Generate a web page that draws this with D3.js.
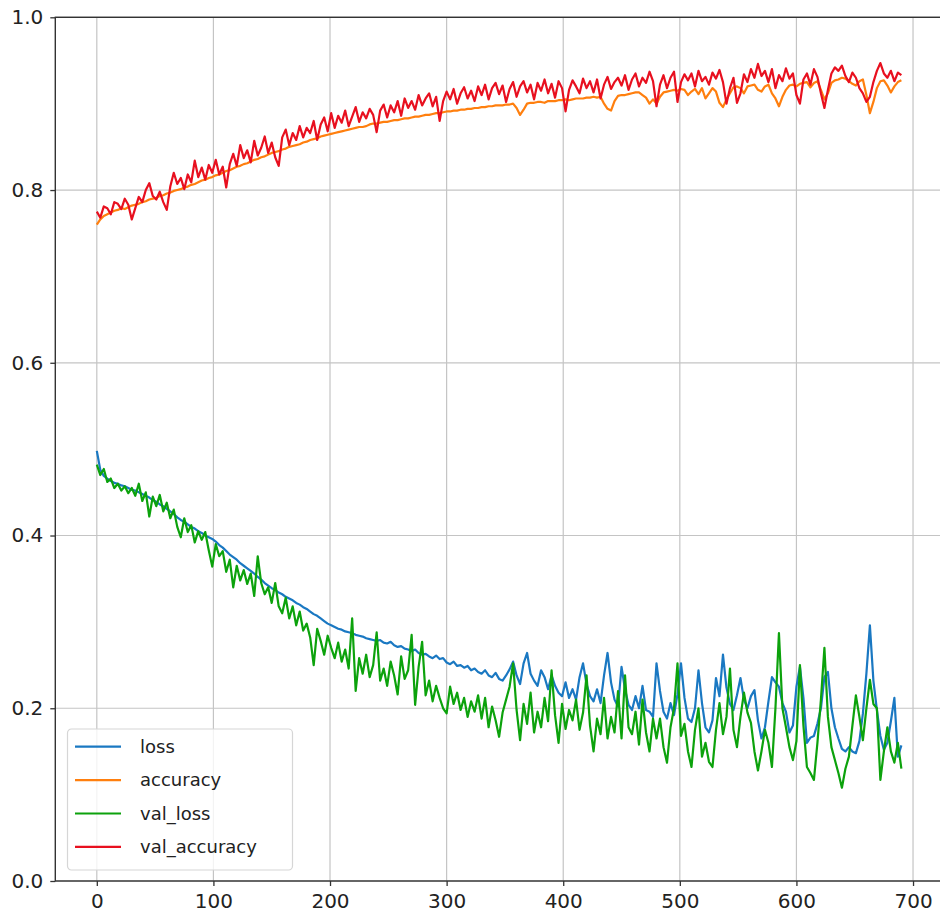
<!DOCTYPE html>
<html>
<head>
<meta charset="utf-8">
<script src="https://cdn.jsdelivr.net/npm/d3@7"></script>
<style>
    html, body { margin: 0; padding: 0; background: #fff; }
    svg { display: block; font-family: "DejaVu Sans", sans-serif; }
</style>
</head>
<body>
<svg id="chart" width="940" height="918"></svg>
<script>
// history, one value every 3 epochs (10 values = 30 epochs per row)
const epochStep = 3
const epochs = d3.range(0, 691, epochStep)

const loss = [
    0.498, 0.476, 0.469, 0.466, 0.463, 0.461, 0.460, 0.458, 0.457, 0.455,
    0.453, 0.452, 0.450, 0.448, 0.446, 0.444, 0.441, 0.439, 0.436, 0.434,
    0.431, 0.428, 0.425, 0.421, 0.418, 0.416, 0.413, 0.410, 0.408, 0.405,
    0.403, 0.400, 0.398, 0.396, 0.393, 0.389, 0.386, 0.382, 0.378, 0.375,
    0.372, 0.368, 0.365, 0.362, 0.359, 0.356, 0.352, 0.349, 0.345, 0.342,
    0.339, 0.337, 0.334, 0.332, 0.329, 0.327, 0.325, 0.322, 0.320, 0.317,
    0.315, 0.312, 0.309, 0.307, 0.304, 0.301, 0.298, 0.296, 0.294, 0.292,
    0.291, 0.289, 0.288, 0.287, 0.285, 0.284, 0.283, 0.281, 0.280, 0.279,
    0.278, 0.279, 0.276, 0.275, 0.277, 0.273, 0.271, 0.272, 0.269, 0.268,
    0.266, 0.268, 0.264, 0.262, 0.263, 0.260, 0.258, 0.261, 0.257, 0.258,
    0.253, 0.251, 0.254, 0.249, 0.250, 0.247, 0.249, 0.244, 0.246, 0.242,
    0.240, 0.244, 0.238, 0.236, 0.241, 0.234, 0.232, 0.238, 0.245, 0.254,
    0.238, 0.228, 0.252, 0.264, 0.240, 0.232, 0.226, 0.244, 0.236, 0.222,
    0.238, 0.226, 0.218, 0.214, 0.230, 0.212, 0.222, 0.210, 0.236, 0.252,
    0.228, 0.214, 0.208, 0.222, 0.206, 0.238, 0.264, 0.230, 0.210, 0.202,
    0.248, 0.222, 0.204, 0.198, 0.214, 0.200, 0.226, 0.198, 0.196, 0.190,
    0.252, 0.220, 0.196, 0.188, 0.206, 0.192, 0.216, 0.252, 0.212, 0.188,
    0.184, 0.200, 0.244, 0.206, 0.178, 0.172, 0.186, 0.235, 0.214, 0.262,
    0.224, 0.205, 0.198, 0.215, 0.235, 0.210, 0.200, 0.214, 0.221, 0.186,
    0.165, 0.178, 0.208, 0.236, 0.230, 0.225, 0.206, 0.196, 0.172, 0.180,
    0.225, 0.248, 0.212, 0.160, 0.166, 0.168, 0.182, 0.200, 0.236, 0.242,
    0.200, 0.178, 0.165, 0.153, 0.150, 0.155, 0.150, 0.148, 0.162, 0.194,
    0.240, 0.296, 0.232, 0.198, 0.168, 0.152, 0.160, 0.185, 0.212, 0.144,
    0.157
]

const accuracy = [
    0.760, 0.766, 0.770, 0.772, 0.774, 0.776, 0.777, 0.779, 0.778, 0.780,
    0.782, 0.783, 0.784, 0.786, 0.787, 0.789, 0.790, 0.791, 0.793, 0.794,
    0.796, 0.797, 0.799, 0.800, 0.801, 0.803, 0.804, 0.806, 0.807, 0.809,
    0.811, 0.812, 0.814, 0.815, 0.817, 0.818, 0.820, 0.822, 0.823, 0.825,
    0.827, 0.828, 0.830, 0.831, 0.833, 0.835, 0.836, 0.838, 0.839, 0.841,
    0.843, 0.844, 0.845, 0.847, 0.848, 0.850, 0.851, 0.852, 0.853, 0.855,
    0.856, 0.858, 0.859, 0.860, 0.862, 0.863, 0.864, 0.865, 0.866, 0.867,
    0.868, 0.869, 0.870, 0.871, 0.872, 0.873, 0.873, 0.874, 0.876, 0.877,
    0.877, 0.878, 0.879, 0.879, 0.880, 0.881, 0.881, 0.882, 0.883, 0.883,
    0.884, 0.885, 0.885, 0.886, 0.887, 0.887, 0.888, 0.889, 0.889, 0.890,
    0.891, 0.891, 0.892, 0.892, 0.893, 0.893, 0.894, 0.894, 0.895, 0.895,
    0.896, 0.896, 0.897, 0.897, 0.898, 0.898, 0.898, 0.899, 0.899, 0.900,
    0.895, 0.887, 0.893, 0.900, 0.901, 0.901, 0.902, 0.902, 0.901, 0.903,
    0.903, 0.903, 0.904, 0.904, 0.905, 0.904, 0.905, 0.906, 0.906, 0.906,
    0.907, 0.907, 0.908, 0.907, 0.908, 0.900, 0.894, 0.892, 0.903, 0.909,
    0.910, 0.910, 0.911, 0.912, 0.913, 0.913, 0.910, 0.907, 0.900, 0.905,
    0.900, 0.908, 0.913, 0.914, 0.915, 0.916, 0.915, 0.917, 0.916, 0.910,
    0.914, 0.917, 0.911, 0.918, 0.906, 0.912, 0.918, 0.914, 0.901, 0.896,
    0.905, 0.912, 0.919, 0.920, 0.918, 0.912, 0.920, 0.921, 0.922, 0.916,
    0.914, 0.920, 0.922, 0.912, 0.906, 0.897, 0.908, 0.916, 0.921, 0.922,
    0.920, 0.923, 0.924, 0.925, 0.919, 0.924, 0.926, 0.916, 0.905, 0.912,
    0.924, 0.927, 0.928, 0.930, 0.929, 0.926, 0.923, 0.921, 0.926, 0.928,
    0.910, 0.889, 0.902, 0.918, 0.926, 0.927, 0.921, 0.913, 0.920, 0.925,
    0.927
]

const valLoss = [
    0.482, 0.470, 0.477, 0.462, 0.466, 0.455, 0.460, 0.452, 0.457, 0.449,
    0.455, 0.446, 0.460, 0.440, 0.450, 0.422, 0.445, 0.434, 0.447, 0.428,
    0.438, 0.420, 0.430, 0.410, 0.398, 0.420, 0.404, 0.412, 0.392, 0.405,
    0.395, 0.404, 0.383, 0.364, 0.390, 0.376, 0.382, 0.358, 0.372, 0.340,
    0.365, 0.348, 0.360, 0.344, 0.356, 0.330, 0.376, 0.345, 0.332, 0.340,
    0.322, 0.345, 0.318, 0.310, 0.328, 0.304, 0.318, 0.296, 0.312, 0.290,
    0.298, 0.282, 0.250, 0.292, 0.278, 0.262, 0.284, 0.270, 0.258, 0.276,
    0.254, 0.268, 0.246, 0.304, 0.220, 0.258, 0.240, 0.262, 0.236, 0.250,
    0.288, 0.232, 0.246, 0.226, 0.254, 0.238, 0.216, 0.260, 0.234, 0.244,
    0.285, 0.204, 0.248, 0.277, 0.215, 0.232, 0.208, 0.226, 0.212, 0.200,
    0.194, 0.225, 0.205, 0.218, 0.198, 0.212, 0.190, 0.208, 0.196, 0.215,
    0.188, 0.212, 0.178, 0.202, 0.186, 0.167, 0.195, 0.210, 0.225, 0.252,
    0.198, 0.163, 0.205, 0.182, 0.218, 0.172, 0.196, 0.178, 0.212, 0.185,
    0.244, 0.192, 0.160, 0.205, 0.176, 0.198, 0.186, 0.210, 0.175, 0.195,
    0.238, 0.180, 0.150, 0.188, 0.170, 0.212, 0.165, 0.190, 0.172, 0.220,
    0.165, 0.238, 0.178, 0.170, 0.196, 0.158, 0.210, 0.172, 0.150, 0.188,
    0.165, 0.188, 0.155, 0.137, 0.178, 0.200, 0.252, 0.168, 0.182, 0.150,
    0.132, 0.175, 0.200, 0.144, 0.160, 0.138, 0.132, 0.175, 0.206, 0.170,
    0.190, 0.246, 0.175, 0.155, 0.190, 0.218, 0.195, 0.183, 0.150, 0.128,
    0.150, 0.175, 0.160, 0.132, 0.200, 0.287, 0.200, 0.178, 0.155, 0.140,
    0.162, 0.250, 0.180, 0.132, 0.125, 0.117, 0.160, 0.210, 0.270, 0.190,
    0.155, 0.140, 0.125, 0.108, 0.130, 0.144, 0.180, 0.215, 0.190, 0.163,
    0.200, 0.233, 0.205, 0.200, 0.117, 0.150, 0.178, 0.150, 0.137, 0.160,
    0.130
]

const valAccuracy = [
    0.775, 0.768, 0.781, 0.779, 0.772, 0.786, 0.784, 0.778, 0.790, 0.783,
    0.766, 0.779, 0.792, 0.786, 0.800, 0.808, 0.793, 0.789, 0.798, 0.786,
    0.777, 0.804, 0.820, 0.807, 0.814, 0.801, 0.818, 0.809, 0.834, 0.815,
    0.826, 0.812, 0.829, 0.820, 0.835, 0.818, 0.827, 0.803, 0.830, 0.842,
    0.828, 0.852, 0.837, 0.846, 0.832, 0.857, 0.840, 0.849, 0.862, 0.843,
    0.855, 0.838, 0.828, 0.861, 0.870, 0.852, 0.866, 0.858, 0.874, 0.861,
    0.872, 0.866, 0.880, 0.858, 0.876, 0.884, 0.868, 0.889, 0.872, 0.886,
    0.878, 0.892, 0.874, 0.885, 0.896, 0.879, 0.890, 0.883, 0.894, 0.887,
    0.867, 0.892, 0.899, 0.884, 0.898, 0.890, 0.903, 0.886, 0.906, 0.895,
    0.903, 0.893, 0.910, 0.898, 0.906, 0.912, 0.897, 0.908, 0.880, 0.903,
    0.914, 0.905, 0.917, 0.900, 0.912, 0.919, 0.906, 0.915, 0.903, 0.920,
    0.910, 0.922, 0.905, 0.918, 0.924, 0.911, 0.921, 0.902, 0.917, 0.925,
    0.908, 0.920, 0.926, 0.913, 0.922, 0.905, 0.924, 0.915, 0.928, 0.912,
    0.923, 0.907, 0.926, 0.918, 0.891, 0.916, 0.927, 0.920, 0.912, 0.929,
    0.918, 0.926, 0.913, 0.928, 0.906, 0.922, 0.931, 0.917, 0.925, 0.930,
    0.921, 0.933, 0.916, 0.928, 0.935, 0.920, 0.930, 0.924, 0.937, 0.926,
    0.897, 0.922, 0.933, 0.918, 0.930, 0.937, 0.902, 0.925, 0.934, 0.927,
    0.935, 0.920, 0.938, 0.926, 0.931, 0.922, 0.936, 0.929, 0.939, 0.925,
    0.900, 0.918, 0.930, 0.901, 0.912, 0.934, 0.925, 0.940, 0.930, 0.946,
    0.932, 0.938, 0.925, 0.940, 0.918, 0.933, 0.926, 0.941, 0.929, 0.935,
    0.910, 0.900, 0.928, 0.935, 0.922, 0.940, 0.931, 0.912, 0.895, 0.916,
    0.935, 0.942, 0.938, 0.944, 0.932, 0.925, 0.936, 0.930, 0.918, 0.912,
    0.902, 0.908, 0.925, 0.938, 0.947, 0.935, 0.930, 0.938, 0.926, 0.936,
    0.933
]

const seriesNames = ['loss', 'accuracy', 'val_loss', 'val_accuracy']
const seriesValues = [loss, accuracy, valLoss, valAccuracy]
const seriesColours = ['#1a78c2', '#ff7f0e', '#0ca20c', '#e8101f']

const xTicks = [0, 100, 200, 300, 400, 500, 600, 700]
const yTicks = [0, 0.2, 0.4, 0.6, 0.8, 1.0]

const fontSize = '20px'
const legendFontSize = '18px'
const plot = { left: 55.3, top: 17.3, right: 941.6, bottom: 881 }

const svg = d3.select('#chart')

const x = d3.scaleLinear().domain([-35.6, 724.5]).range([plot.left, plot.right])
const y = d3.scaleLinear().domain([0, 1]).range([plot.bottom, plot.top])

// grid
const grid = svg.append('g').attr('class', 'grid')
grid.selectAll('.gx')
    .data(xTicks)
    .join('line')
    .attr('x1', d => x(d)).attr('x2', d => x(d))
    .attr('y1', plot.top).attr('y2', plot.bottom)
    .attr('stroke', '#c4c4c4')
    .attr('stroke-width', 1.2)
grid.selectAll('.gy')
    .data(yTicks)
    .join('line')
    .attr('x1', plot.left).attr('x2', plot.right)
    .attr('y1', d => y(d)).attr('y2', d => y(d))
    .attr('stroke', '#c4c4c4')
    .attr('stroke-width', 1.2)

// series
const line = vals => d3.line()
    .x((d, i) => x(epochs[i]))
    .y(d => y(d))(vals)

svg.append('g')
    .attr('class', 'series')
    .selectAll('path')
    .data(seriesValues)
    .join('path')
    .attr('d', d => line(d))
    .attr('fill', 'none')
    .attr('stroke', (d, i) => seriesColours[i])
    .attr('stroke-width', 2.2)
    .attr('stroke-linejoin', 'round')

// axes
const adjustAxis = g => {
    g.select('.domain').remove()
    g.selectAll('.tick line').attr('stroke', '#333').attr('stroke-width', 1.3)
    g.selectAll('.tick text').attr('fill', '#222').style('font-size', fontSize)
}

svg.append('g')
    .attr('class', 'x-axis-group')
    .attr('transform', `translate(0, ${plot.bottom})`)
    .call(d3.axisBottom(x).tickValues(xTicks).tickSize(5).tickPadding(8).tickFormat(d3.format('d')))
    .call(adjustAxis)

svg.append('g')
    .attr('class', 'y-axis-group')
    .attr('transform', `translate(${plot.left}, 0)`)
    .call(d3.axisLeft(y).tickValues(yTicks).tickSize(5).tickPadding(7).tickFormat(d3.format('.1f')))
    .call(adjustAxis)

svg.selectAll('.tick text').attr('font-family', '"DejaVu Sans", sans-serif')

// frame
svg.append('rect')
    .attr('x', plot.left)
    .attr('y', plot.top)
    .attr('width', plot.right - plot.left)
    .attr('height', plot.bottom - plot.top)
    .attr('fill', 'none')
    .attr('stroke', '#333')
    .attr('stroke-width', 1.4)

// legend
const legend = svg.append('g')
    .attr('class', 'legend')
    .attr('transform', 'translate(67.5, 729)')

legend.append('rect')
    .attr('width', 225)
    .attr('height', 141)
    .attr('rx', 4)
    .attr('fill', 'white')
    .attr('fill-opacity', 0.8)
    .attr('stroke', '#d6d6d6')
    .attr('stroke-width', 1.2)

const entries = legend.selectAll('.entry')
    .data(seriesNames)
    .join('g')
    .attr('class', 'entry')
    .attr('transform', (d, i) => `translate(0, ${17.7 + i * 33.4})`)

entries.append('line')
    .attr('x1', 7.5).attr('x2', 53.5)
    .attr('stroke', (d, i) => seriesColours[i])
    .attr('stroke-width', 2.2)

entries.append('text')
    .attr('x', 72.5)
    .attr('dy', '0.35em')
    .attr('fill', '#222')
    .style('font-size', legendFontSize)
    .text(d => d)
</script>
</body>
</html>
